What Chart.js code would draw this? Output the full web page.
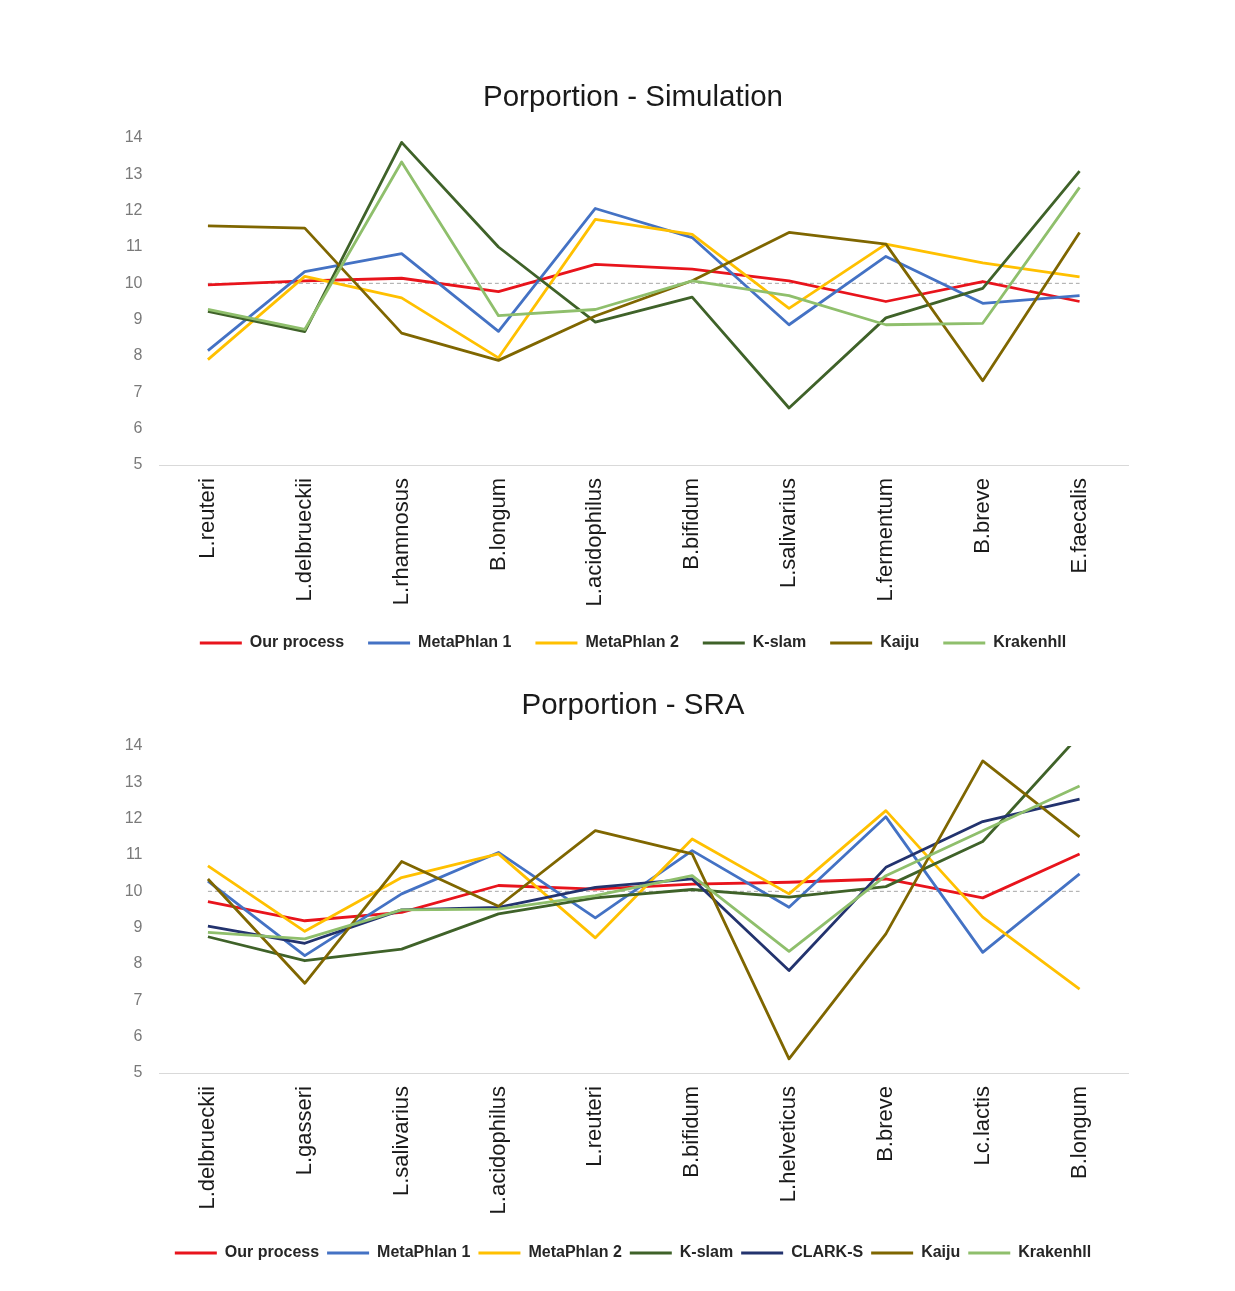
<!DOCTYPE html>
<html>
<head>
<meta charset="utf-8">
<script src="https://cdn.jsdelivr.net/npm/chart.js@4.4.1/dist/chart.umd.min.js"></script>
<style>
  html, body { margin: 0; padding: 0; background: #fff; }
  body { width: 1235px; height: 1291px; position: relative; overflow: hidden; }
  .panel { position: absolute; left: 0; width: 1235px; }
  #simBox { top: 60px; height: 601px; }
  #sraBox { top: 668px; height: 603px; }
</style>
</head>
<body>
<div class="panel" id="simBox"><canvas id="sim"></canvas></div>
<div class="panel" id="sraBox"><canvas id="sra"></canvas></div>
<script>
// values (proportion, %)
const simCategories = ["L.reuteri", "L.delbrueckii", "L.rhamnosus", "B.longum", "L.acidophilus",
  "B.bifidum", "L.salivarius", "L.fermentum", "B.breve", "E.faecalis"]
const simOurProcess = [9.96, 10.07, 10.14, 9.77, 10.52, 10.39, 10.07, 9.5, 10.05, 9.5]
const simMetaPhlan1 = [8.15, 10.32, 10.82, 8.68, 12.06, 11.26, 8.86, 10.74, 9.45, 9.66]
const simMetaPhlan2 = [7.9, 10.19, 9.6, 7.95, 11.76, 11.35, 9.31, 11.08, 10.56, 10.18]
const simKslam = [9.23, 8.67, 13.88, 11.0, 8.93, 9.62, 6.57, 9.05, 9.86, 13.09]
const simKaiju = [11.58, 11.52, 8.63, 7.88, 9.1, 10.07, 11.4, 11.08, 7.32, 11.4]
const simKraken = [9.28, 8.73, 13.34, 9.11, 9.28, 10.07, 9.66, 8.86, 8.9, 12.64]

const sraCategories = ["L.delbrueckii", "L.gasseri", "L.salivarius", "L.acidophilus", "L.reuteri",
  "B.bifidum", "L.helveticus", "B.breve", "Lc.lactis", "B.longum"]
const sraOurProcess = [9.72, 9.19, 9.42, 10.16, 10.06, 10.2, 10.25, 10.34, 9.82, 11.03]
const sraMetaPhlan1 = [10.28, 8.23, 9.93, 11.07, 9.27, 11.12, 9.56, 12.05, 8.32, 10.48]
const sraMetaPhlan2 = [10.7, 8.9, 10.38, 11.03, 8.72, 11.44, 9.93, 12.22, 9.29, 7.31]
const sraKslam = [8.75, 8.09, 8.41, 9.38, 9.82, 10.05, 9.84, 10.13, 11.37, 14.3]
const sraClark = [9.04, 8.57, 9.49, 9.56, 10.11, 10.34, 7.82, 10.66, 11.92, 12.54]
const sraKaiju = [10.34, 7.47, 10.82, 9.59, 11.67, 11.03, 5.39, 8.83, 13.59, 11.5]
const sraKraken = [8.87, 8.69, 9.49, 9.51, 9.88, 10.43, 8.35, 10.43, 11.67, 12.9]

// expected share (10 %), drawn as the dashed reference line
const expected = [10, 10, 10, 10, 10, 10, 10, 10, 10, 10]
// y axis: 5 .. 14, one tick per unit
const yMin = 5
const yMax = 14
const yStep = 1

const colors = {
  "Our process": "#e8141c",
  "MetaPhlan 1": "#4472c4",
  "MetaPhlan 2": "#ffc000",
  "K-slam": "#3f6229",
  "CLARK-S": "#23336e",
  "Kaiju": "#7f6600",
  "Krakenhll": "#8fbf6c"
}

Chart.defaults.font.family = "'Liberation Sans', Arial, sans-serif"

function makeChart(id, title, categories, series, legendPadding, xHeight) {
  const datasets = series.map(([label, data], i) => ({
    label,
    data,
    borderColor: colors[label],
    backgroundColor: colors[label],
    borderWidth: 2.8,
    borderJoinStyle: "round",
    pointRadius: 0,
    tension: 0,
    order: -i
  }))
  datasets.push({
    label: "",
    data: expected,
    borderColor: "#a6a6a6",
    borderWidth: 1,
    borderDash: [4, 3],
    pointRadius: 0,
    order: 100
  })

  return new Chart(document.getElementById(id), {
    type: "line",
    data: { labels: categories, datasets },
    options: {
      responsive: true,
      maintainAspectRatio: false,
      animation: false,
      layout: { padding: { left: 114.5, right: 83.5, top: 0, bottom: 0 } },
      plugins: {
        tooltip: { enabled: false },
        title: {
          display: true,
          text: title,
          color: "#1a1a1a",
          font: { size: 29.5, weight: "normal" },
          padding: { top: 20.3, bottom: 22.3 }
        },
        legend: {
          position: "bottom",
          labels: {
            usePointStyle: true,
            pointStyle: "line",
            pointStyleWidth: 42,
            padding: legendPadding,
            color: "#262626",
            font: { size: 16, weight: "bold" },
            filter: (item) => item.text !== "",
            sort: (a, b) => a.datasetIndex - b.datasetIndex
          }
        }
      },
      scales: {
        x: {
          offset: true,
          grid: { display: false },
          border: { display: true, color: "#d9d9d9", width: 1 },
          ticks: {
            minRotation: 90,
            maxRotation: 90,
            autoSkip: false,
            padding: 5,
            color: "#1a1a1a",
            font: { size: 22 }
          },
          afterFit: (scale) => { scale.height = xHeight }
        },
        y: {
          min: yMin,
          max: yMax,
          grid: { display: false },
          border: { display: false },
          ticks: { stepSize: yStep, padding: 9, color: "#7a7a7a", font: { size: 16 } },
          afterFit: (scale) => { scale.width = 45 }
        },
        // empty right-hand axis, only keeps title and legend centred like the original
        yRight: {
          position: "right",
          display: true,
          min: yMin,
          max: yMax,
          grid: { display: false },
          border: { display: false },
          ticks: { display: false },
          afterFit: (scale) => { scale.width = 23.5 }
        }
      }
    }
  })
}

makeChart("sim", "Porportion - Simulation", simCategories, [
  ["Our process", simOurProcess],
  ["MetaPhlan 1", simMetaPhlan1],
  ["MetaPhlan 2", simMetaPhlan2],
  ["K-slam", simKslam],
  ["Kaiju", simKaiju],
  ["Krakenhll", simKraken]
], 24, 146)

makeChart("sra", "Porportion - SRA", sraCategories, [
  ["Our process", sraOurProcess],
  ["MetaPhlan 1", sraMetaPhlan1],
  ["MetaPhlan 2", sraMetaPhlan2],
  ["K-slam", sraKslam],
  ["CLARK-S", sraClark],
  ["Kaiju", sraKaiju],
  ["Krakenhll", sraKraken]
], 8, 164)
</script>
</body>
</html>
